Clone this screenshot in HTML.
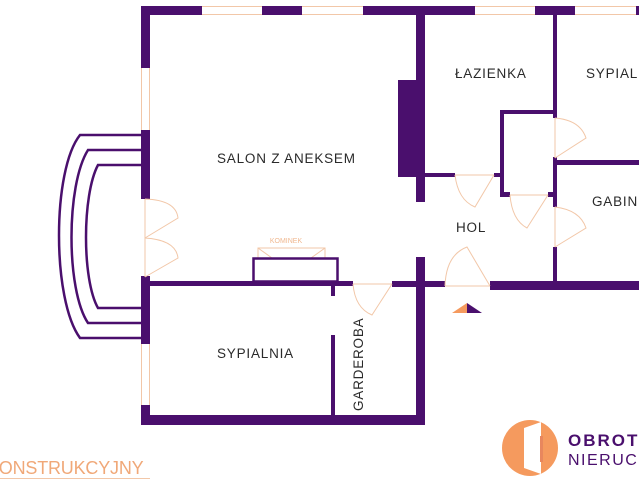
<!DOCTYPE html>
<html><head><meta charset="utf-8"><style>
html,body{margin:0;padding:0;background:#fff;}
svg{display:block;}
text{font-family:"Liberation Sans",sans-serif;}
</style></head><body>
<svg width="639" height="480" viewBox="0 0 639 480" xmlns="http://www.w3.org/2000/svg">
<g fill="#4a0f6d">
<rect x="141" y="6" width="61" height="9"/>
<rect x="262" y="6" width="40" height="9"/>
<rect x="363" y="6" width="112" height="9"/>
<rect x="535" y="6" width="40" height="9"/>
<rect x="636" y="6" width="3" height="9"/>
<rect x="141" y="6" width="9" height="62"/>
<rect x="141" y="130" width="9" height="69"/>
<rect x="141" y="276" width="9" height="68"/>
<rect x="141" y="405" width="9" height="20"/>
<rect x="141" y="415" width="284" height="10"/>
<rect x="416" y="257" width="9" height="168"/>
<rect x="150" y="281" width="203" height="5"/>
<rect x="392" y="281" width="53" height="6"/>
<rect x="490" y="281" width="149" height="9"/>
<rect x="331" y="281" width="4" height="15"/>
<rect x="331" y="335" width="4" height="80"/>
<rect x="416" y="15" width="9" height="187"/>
<rect x="398" y="80" width="18" height="97"/>
<rect x="425" y="173" width="30" height="4"/>
<rect x="494" y="173" width="6" height="4"/>
<rect x="500" y="110" width="4" height="87"/>
<rect x="500" y="110" width="55" height="4"/>
<rect x="504" y="192" width="6" height="5"/>
<rect x="548" y="192" width="5" height="5"/>
<rect x="553" y="15" width="4" height="103"/>
<rect x="553" y="157" width="4" height="50"/>
<rect x="553" y="247" width="4" height="36"/>
<rect x="557" y="160" width="82" height="5"/>
</g>
<g stroke="#f2c7a8" stroke-width="1" fill="none">
<path d="M202,6.5H262M202,14.5H262M302,6.5H363M302,14.5H363M475,6.5H535M475,14.5H535M575,6.5H636M575,14.5H636"/>
<path d="M141.5,68V130M149.5,68V130M141.5,344V405M149.5,344V405M145,199V277"/>
<path d="M145,199 Q176,200 178,218 L145,238 M145,238 Q176,240 178,258 L145,277"/>
<path d="M455,175H494 M494,175 L475,207 Q458,200 455,175"/>
<path d="M510,195H548 M548,195 L527,228 Q512,220 510,195"/>
<path d="M555,118V158 M555,158 L586,138 Q580,120 555,118"/>
<path d="M555,207V247 M555,247 L586,228 Q580,210 555,207"/>
<path d="M353,284H392 M392,284 L372,315 Q355,308 353,284"/>
<path d="M445,286H490 M490,286 L467,247 Q446,255 445,286"/>
<path d="M258,258 V248 H325 V258 M258,248 L272,258 M325,248 L311,258"/>
</g>
<rect x="253.5" y="258.5" width="84" height="23" fill="none" stroke="#4a0f6d" stroke-width="2.5"/>
<text x="286" y="243" font-size="7" fill="#f0b890" text-anchor="middle">KOMINEK</text>
<g stroke="#4a0f6d" stroke-width="2.5" fill="none">
<path d="M141,135 H80 C52,170 52,300 80,338 H141"/>
<path d="M141,150 H88 C66,185 66,290 88,323 H141"/>
<path d="M141,165 H98 C82,195 82,280 98,308 H141"/>
</g>
<path d="M452,313 L467,303 V313 Z" fill="#f59a5e"/>
<path d="M467,303 L482,313 H467 Z" fill="#4a0f6d"/>
<g fill="#2a2a2a" font-size="13.5" letter-spacing="0.8">
<text x="217" y="163">SALON Z ANEKSEM</text>
<text x="455" y="78">ŁAZIENKA</text>
<text x="586" y="78">SYPIALNIA</text>
<text x="592" y="206">GABINET</text>
<text x="456" y="232">HOL</text>
<text x="217" y="358">SYPIALNIA</text>
<text x="0" y="0" transform="translate(363,411) rotate(-90)">GARDEROBA</text>
</g>
<text x="-13" y="474" font-size="18" fill="#f0a878" letter-spacing="-0.2">KONSTRUKCYJNY</text>
<line x1="0" y1="478.5" x2="150" y2="478.5" stroke="#f2c7a8" stroke-width="1"/>
<circle cx="530" cy="448" r="28" fill="#f59a5e"/>
<path d="M524,428 L541,422 V474 L524,468 Z" fill="#fff"/>
<rect x="540" y="436" width="3" height="26" fill="#e8875e"/>
<text x="568" y="446" font-family="Liberation Serif,serif" font-weight="bold" font-size="17" fill="#4a0f6d" letter-spacing="2">OBROTI</text>
<text x="568" y="465" font-family="Liberation Serif,serif" font-size="16" fill="#4a0f6d" letter-spacing="1.5">NIERUCH</text>
</svg>
</body></html>
